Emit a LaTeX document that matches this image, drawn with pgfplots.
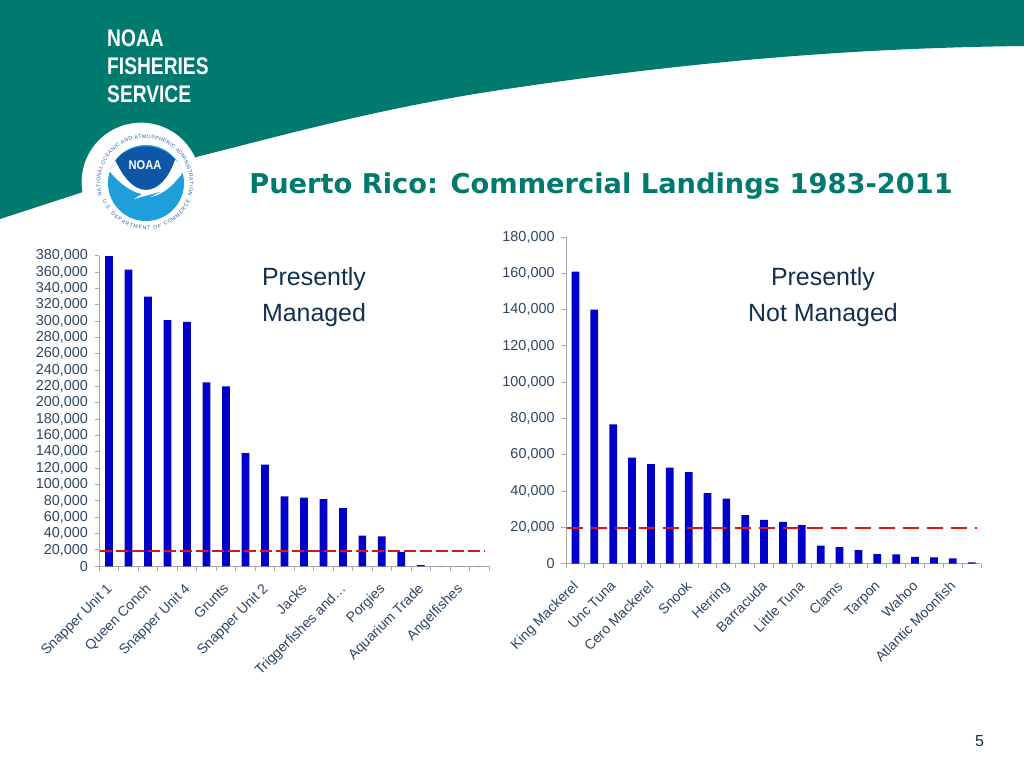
\documentclass[border=0pt]{standalone}
\usepackage{pgfplots}
\pgfplotsset{compat=1.18}
\usepackage{fontspec}
\setmainfont{Liberation Sans}
\newfontfamily\titlefont{DejaVu Sans}
\usetikzlibrary{decorations.text}
\definecolor{teal1}{HTML}{007A6E}
\definecolor{navy1}{HTML}{12304F}
\definecolor{lab1}{HTML}{2C4663}
\definecolor{bar1}{HTML}{0000C8}
\definecolor{red1}{HTML}{D8141C}
\definecolor{axis1}{HTML}{A8A8A8}
\definecolor{sealdark}{HTML}{0F57A6}
\definecolor{seallight}{HTML}{1E9FDC}
\definecolor{sealtext}{HTML}{2F5FA8}
\pgfplotsset{
  chartaxis/.style={
    scale only axis, anchor=south west,
    axis x line=bottom, axis y line=left,
    axis line style={-,draw=axis1,line width=0.7pt},
    tick style={draw=axis1,line width=0.7pt},
    tick align=outside,
    major tick length=3.4pt,
    minor tick length=3.4pt,
    ymin=0,
    scaled y ticks=false,
    /pgf/number format/fixed,
    /pgf/number format/precision=0,
    /pgf/number format/1000 sep={,},
    /pgf/number format/assume math mode=true,
    y tick label style={font=\fontsize{10.8}{12}\selectfont,text=lab1,inner sep=1.5pt,xshift=-3.5pt},
    x tick label style={font=\fontsize{10.5}{12}\selectfont,text=lab1,rotate=45,anchor=north east,inner sep=1pt,yshift=-3.25pt,xshift=-7pt},
    major x tick style={draw=none},
    clip=false,
  },
  barstyle/.style={ybar,bar width=5.8pt,fill=bar1,draw=none,bar shift=0pt},
}
\pgfplotstableread{
x y
1 379500
2 363000
3 330000
4 301000
5 299000
6 225000
7 220000
8 138600
9 124500
10 85600
11 84000
12 82300
13 71300
14 37500
15 36700
16 17500
17 1500
18 0
19 0
20 0
}\managed
\pgfplotstableread{
x y
1 161000
2 140000
3 76800
4 58400
5 54900
6 52900
7 50500
8 38900
9 35800
10 26800
11 24200
12 23100
13 21300
14 9900
15 9200
16 7500
17 5300
18 5100
19 3700
20 3500
21 2900
22 700
}\notmanaged
\begin{document}
\begin{tikzpicture}[x=0.75pt,y=-0.75pt]
\path[use as bounding box] (0,0) rectangle (1024,768);
\fill[white] (0,0) rectangle (1024,768);
% header band
\fill[teal1] (0,0) -- (1024,0) -- (1024,46)
  .. controls (860,48) and (700,60) .. (500,90)
  .. controls (380,108) and (280,136) .. (200,156)
  -- (83,192) -- (0,219) -- cycle;
\fill[white] (141,182) circle[radius=44.5pt];
% seal
\fill[seallight] (146,183) circle[radius=28.5pt];
\begin{scope}
\clip (146,183) circle[radius=28.5pt];
\fill[sealdark] (115,160) .. controls (130,142) and (162,142) .. (175,160)
  .. controls (170,175) and (160,190) .. (146,190)
  .. controls (132,190) and (122,175) .. (115,160) -- cycle;
\fill[white] (105,165) -- (115,160) .. controls (122,175) and (132,190) .. (146,190)
  .. controls (160,190) and (170,175) .. (175,160) -- (186,168)
  .. controls (178,180) and (165,195) .. (150,197)
  -- (163,191) -- (134,199) -- (142,194)
  .. controls (130,192) and (115,180) .. (105,165) -- cycle;
\end{scope}
\node[text=white,font=\bfseries\fontsize{9.5}{10}\selectfont,inner sep=0pt,xscale=0.88] at (145,165.5) {NOAA};
\path[decorate,decoration={text along path,text align={fit to path},
  text={|\fontsize{3.9}{4}\selectfont\color{sealtext}|NATIONAL OCEANIC AND ATMOSPHERIC ADMINISTRATION}}]
  (102,195) arc[start angle=196,end angle=-16,radius=33.5pt];
\path[decorate,decoration={text along path,text align={fit to path},
  text={|\fontsize{3.9}{4}\selectfont\color{sealtext}|U.S. DEPARTMENT OF COMMERCE}}]
  (102.5,200) arc[start angle=202,end angle=338,radius=35.5pt];
% brand
\begin{scope}[every node/.style={anchor=base west,inner sep=0pt,text=white,font=\bfseries\fontsize{18}{20}\selectfont,xscale=0.8}]
\node at (107,46.5) {NOAA};
\node at (107,74.5) {FISHERIES};
\node at (107,102) {SERVICE};
\end{scope}
% title
\node[anchor=base west,inner sep=0pt,text=teal1,font=\titlefont\bfseries\fontsize{20.45}{24}\selectfont] at (249,193) {Puerto Rico: Commercial Landings 1983-2011};
% left chart
\begin{axis}[chartaxis,at={(74.475pt,-424.725pt)},width=292.3pt,height=233pt,
  xmin=0.5,xmax=20.5,ymax=380000,
  ytick={0,20000,...,380000},
  xtick={1,3,5,7,9,11,13,15,17,19},
  xticklabels={Snapper Unit 1,Queen Conch,Snapper Unit  4,Grunts,Snapper Unit 2,Jacks,Triggerfishes and\ldots,Porgies,Aquarium Trade,Angelfishes},
  minor xtick={0.5,1.5,...,20.5},
]
\addplot[barstyle] table[x=x,y=y] {\managed};
\addplot[red1,line width=1.5pt,dash pattern=on 8.5pt off 3.5pt,forget plot] coordinates {(0.55,18750) (20.3,18750)};
\end{axis}
% right chart
\begin{axis}[chartaxis,at={(424.5pt,-422.775pt)},width=311.3pt,height=245pt,
  xmin=0.5,xmax=22.5,ymax=180000,
  ytick={0,20000,...,180000},
  xtick={1,3,5,7,9,11,13,15,17,19,21},
  xticklabels={King Mackerel,Unc Tuna,Cero Mackerel,Snook,Herring,Barracuda,Little Tuna,Clams,Tarpon,Wahoo,Atlantic Moonfish},
  minor xtick={0.5,1.5,...,22.5},
]
\addplot[barstyle] table[x=x,y=y] {\notmanaged};
\addplot[red1,line width=1.5pt,dash pattern=on 12.4pt off 5.6pt,forget plot] coordinates {(0.55,19650) (22.3,19650)};
\end{axis}
% annotations
\begin{scope}[every node/.style={inner sep=0pt,text=navy1,font=\fontsize{18.7}{22}\selectfont,anchor=base}]
\node at (314,285) {Presently};
\node at (314,321) {Managed};
\node at (823,285) {Presently};
\node at (823,321) {Not Managed};
\end{scope}
\node[inner sep=0pt,anchor=base,text=navy1,font=\fontsize{12}{14}\selectfont] at (979.5,746) {5};
\end{tikzpicture}
\end{document}
